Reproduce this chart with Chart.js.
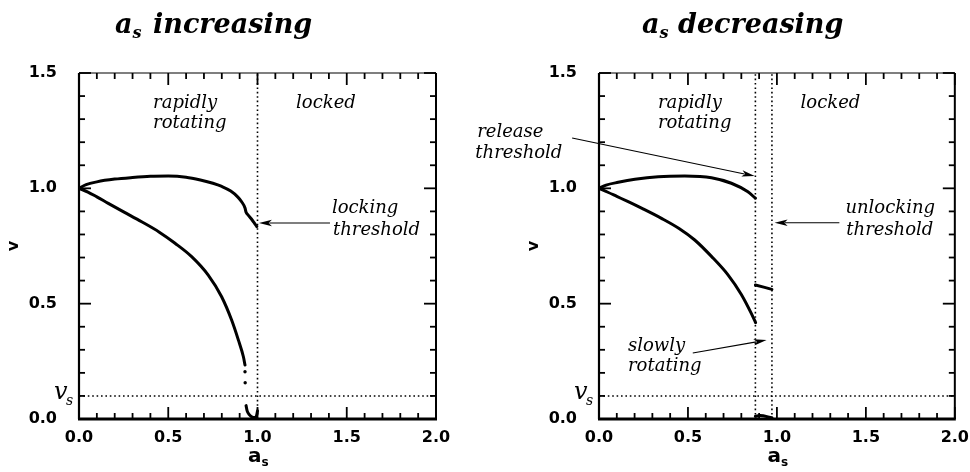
<!DOCTYPE html>
<html><head><meta charset="utf-8">
<script src="https://cdn.jsdelivr.net/npm/chart.js@4"></script>
<style>
html,body{margin:0;padding:0;background:#fff;}
#wrap{position:relative;width:970px;height:472px;overflow:hidden;background:#fff;}
canvas{position:absolute;top:0;}
#c1{left:0}
#c2{left:460px}
</style></head><body>
<div id="wrap"><canvas id="c1" width="485" height="472"></canvas><canvas id="c2" width="510" height="472"></canvas></div>
<script>
// ---------- data ----------
// a_s increasing
const incUpperA = [0, 0.04, 0.1, 0.2, 0.3, 0.4, 0.5, 0.6, 0.68, 0.75, 0.8, 0.85, 0.89, 0.911, 0.93, 0.936, 0.948, 0.965, 0.98, 0.996];
const incUpperV = [1.0, 1.016, 1.028, 1.04, 1.047, 1.052, 1.053, 1.048, 1.036, 1.022, 1.008, 0.988, 0.962, 0.942, 0.915, 0.896, 0.884, 0.868, 0.852, 0.834];
const incLowerA = [0, 0.05, 0.1, 0.164, 0.25, 0.351, 0.45, 0.538, 0.631, 0.724, 0.799, 0.855, 0.893, 0.921, 0.93];
const incLowerV = [1.0, 0.984, 0.963, 0.935, 0.898, 0.855, 0.81, 0.762, 0.704, 0.624, 0.53, 0.429, 0.342, 0.27, 0.234];
const incDotsA = [0.93, 0.931];
const incDotsV = [0.205, 0.157];
const incHookA = [0.936, 0.942, 0.955, 0.97, 0.985, 0.995, 1.0];
const incHookV = [0.058, 0.035, 0.018, 0.008, 0.006, 0.015, 0.035];
const incThresholdA = [1.0];
// a_s decreasing
const decUpperA = [0, 0.04, 0.108, 0.202, 0.333, 0.482, 0.632, 0.744, 0.837, 0.879];
const decUpperV = [1.0, 1.014, 1.026, 1.039, 1.05, 1.053, 1.046, 1.022, 0.985, 0.957];
const decLowerA = [0, 0.05, 0.1, 0.164, 0.25, 0.351, 0.45, 0.538, 0.632, 0.725, 0.8, 0.856, 0.88];
const decLowerV = [1.0, 0.983, 0.965, 0.942, 0.91, 0.87, 0.826, 0.776, 0.705, 0.625, 0.54, 0.458, 0.418];
const decMidA = [0.879, 0.972];
const decMidV = [0.581, 0.562];
const decLowA = [0.879, 0.905, 0.972];
const decLowV = [0.012, 0.015, 0.005];
const decThresholdA = [0.879, 0.972];
// common
const vsLevel = 0.1;
const xTickValues = [0, 0.5, 1.0, 1.5, 2.0];
const xTickLabels = ['0.0', '0.5', '1.0', '1.5', '2.0'];
const yTickValues = [0, 0.5, 1.0, 1.5];
const yTickLabels = ['0.0', '0.5', '1.0', '1.5'];

// ---------- helpers ----------
function pts(a, v) { return a.map((x, i) => ({x: x, y: v[i]})); }
function curve(a, v) {
  return {data: pts(a, v), showLine: true, pointRadius: 0, borderColor: '#000', borderWidth: 3,
          cubicInterpolationMode: 'monotone', borderCapStyle: 'round', borderJoinStyle: 'round'};
}
function dots(a, v) {
  return {data: pts(a, v), showLine: false, pointRadius: 1.7, backgroundColor: '#000', borderWidth: 0};
}
function dotted(data) {
  return {data: data, showLine: true, pointRadius: 0, borderColor: '#000', borderWidth: 1.6,
          borderDash: [1.6, 2.8], borderCapStyle: 'butt'};
}
function vLine(a) { return dotted([{x: a, y: 0}, {x: a, y: 1.5}]); }
function hLine(v) { return dotted([{x: 0, y: v}, {x: 2, y: v}]); }

function drawSub(ctx, base, sub, x, y, font, subFont, dx, dy) {
  ctx.font = font; ctx.fillText(base, x, y);
  const w = ctx.measureText(base).width;
  ctx.font = subFont; ctx.fillText(sub, x + w + dx, y + dy);
}

function arrow(ctx, x1, y1, x2, y2) {
  const ang = Math.atan2(y2 - y1, x2 - x1);
  const L = 13, W = 3.2;
  ctx.save();
  ctx.strokeStyle = '#000'; ctx.lineWidth = 1.1;
  ctx.beginPath(); ctx.moveTo(x1, y1);
  ctx.lineTo(x2 - Math.cos(ang) * L * 0.8, y2 - Math.sin(ang) * L * 0.8); ctx.stroke();
  ctx.fillStyle = '#000';
  ctx.beginPath();
  ctx.moveTo(x2, y2);
  ctx.lineTo(x2 - Math.cos(ang) * L - Math.sin(ang) * W, y2 - Math.sin(ang) * L + Math.cos(ang) * W);
  ctx.lineTo(x2 - Math.cos(ang) * L * 0.75, y2 - Math.sin(ang) * L * 0.75);
  ctx.lineTo(x2 - Math.cos(ang) * L + Math.sin(ang) * W, y2 - Math.sin(ang) * L - Math.cos(ang) * W);
  ctx.closePath(); ctx.fill();
  ctx.restore();
}

const decor = {
  id: 'decor',
  afterDraw(chart, args, o) {
    const ctx = chart.ctx, ca = chart.chartArea;
    const xs = chart.scales.x, ys = chart.scales.y;
    ctx.save();
    ctx.strokeStyle = '#000'; ctx.fillStyle = '#000';
    // frame
    ctx.lineCap = 'butt';
    ctx.lineWidth = 1.2; ctx.beginPath(); ctx.moveTo(ca.left, ca.top); ctx.lineTo(ca.right, ca.top); ctx.stroke();
    ctx.lineWidth = 2; ctx.beginPath(); ctx.moveTo(ca.right, ca.top); ctx.lineTo(ca.right, ca.bottom); ctx.stroke();
    ctx.lineWidth = 2.2; ctx.beginPath(); ctx.moveTo(ca.left, ca.top); ctx.lineTo(ca.left, ca.bottom); ctx.stroke();
    ctx.lineWidth = 2.8; ctx.beginPath(); ctx.moveTo(ca.left - 1, ca.bottom); ctx.lineTo(ca.right + 1, ca.bottom); ctx.stroke();
    // inward ticks
    ctx.lineWidth = 1.8;
    for (let i = 0; i <= 20; i++) {
      const px = xs.getPixelForValue(i / 10), len = (i % 5 === 0) ? 12 : 6;
      ctx.beginPath(); ctx.moveTo(px, ca.bottom); ctx.lineTo(px, ca.bottom - len); ctx.stroke();
      ctx.beginPath(); ctx.moveTo(px, ca.top); ctx.lineTo(px, ca.top + len); ctx.stroke();
    }
    for (let i = 0; i <= 15; i++) {
      const py = ys.getPixelForValue(i / 10), len = (i % 5 === 0) ? 12 : 6;
      ctx.beginPath(); ctx.moveTo(ca.left, py); ctx.lineTo(ca.left + len, py); ctx.stroke();
      ctx.beginPath(); ctx.moveTo(ca.right, py); ctx.lineTo(ca.right - len, py); ctx.stroke();
    }
    ctx.textAlign = 'left'; ctx.textBaseline = 'alphabetic';
    // v_s label
    drawSub(ctx, 'v', 's', ca.left - 25, ys.getPixelForValue(vsLevel) + 3,
            'italic 24px "DejaVu Serif"', 'italic 14px "DejaVu Serif"', -1.5, 6);
    // x title a_s
    const cx = (ca.left + ca.right) / 2;
    drawSub(ctx, 'a', 's', cx - 9.5, 462, 'bold 20px "DejaVu Sans"', 'bold 12px "DejaVu Sans"', 0, 4);
    // title
    drawSub(ctx, 'a', 's', o.title.ax, 33, 'bold italic 27px "DejaVu Serif"', 'bold italic 16px "DejaVu Serif"', 0, 5);
    ctx.font = 'bold italic 27px "DejaVu Serif"';
    ctx.fillText(o.title.text, o.title.tx, 33);
    // annotations
    ctx.font = 'italic 18px "DejaVu Serif"';
    for (const t of o.texts) ctx.fillText(t.t, xs.getPixelForValue(t.a), ys.getPixelForValue(t.v));
    for (const r of o.arrows) arrow(ctx, xs.getPixelForValue(r[0]), ys.getPixelForValue(r[1]),
                                     xs.getPixelForValue(r[2]), ys.getPixelForValue(r[3]));
    ctx.restore();
  }
};

function makeChart(id, datasets, padLeft, padRight, deco) {
  return new Chart(document.getElementById(id), {
    type: 'scatter',
    data: {datasets: datasets},
    plugins: [decor],
    options: {
      responsive: false, animation: false, devicePixelRatio: 1, events: [],
      layout: {padding: {left: padLeft, right: padRight, top: 73, bottom: 0}},
      plugins: {legend: {display: false}, tooltip: {enabled: false}, decor: deco},
      scales: {
        x: {type: 'linear', min: 0, max: 2, grid: {display: false}, border: {display: false},
            afterBuildTicks: s => { s.ticks = xTickValues.map(v => ({value: v})); },
            afterFit: s => { s.height = 53; },
            ticks: {padding: 1, color: '#000', font: {family: 'DejaVu Sans', size: 16, weight: 'bold'},
                    callback: v => xTickLabels[xTickValues.indexOf(v)]}},
        y: {type: 'linear', min: 0, max: 1.5, grid: {display: false}, border: {display: false},
            afterBuildTicks: s => { s.ticks = yTickValues.map(v => ({value: v})); },
            afterFit: s => { s.width = 79; },
            title: {display: true, text: 'v', color: '#000', font: {family: 'DejaVu Sans', size: 16, weight: 'bold'}},
            ticks: {padding: 14, color: '#000', font: {family: 'DejaVu Sans', size: 16, weight: 'bold'},
                    callback: v => yTickLabels[yTickValues.indexOf(v)]}}
      }
    }
  });
}

makeChart('c1', [
  curve(incUpperA, incUpperV), curve(incLowerA, incLowerV), dots(incDotsA, incDotsV), curve(incHookA, incHookV),
  ...incThresholdA.map(vLine), hLine(vsLevel)
], 0, 49, {
  title: {ax: 115, tx: 153, text: 'increasing'},
  texts: [
    {t: 'rapidly', a: 0.415, v: 1.348}, {t: 'rotating', a: 0.415, v: 1.26},
    {t: 'locked', a: 1.216, v: 1.348},
    {t: 'locking', a: 1.417, v: 0.893}, {t: 'threshold', a: 1.423, v: 0.798}
  ],
  arrows: [[1.406, 0.85, 1.008, 0.85]]
});

makeChart('c2', [
  curve(decUpperA, decUpperV), curve(decLowerA, decLowerV), curve(decMidA, decMidV), curve(decLowA, decLowV),
  ...decThresholdA.map(vLine), hLine(vsLevel)
], 60, 14, {
  title: {ax: 182, tx: 218, text: 'decreasing'},
  texts: [
    {t: 'release', a: -0.685, v: 1.2225}, {t: 'threshold', a: -0.695, v: 1.131},
    {t: 'rapidly', a: 0.331, v: 1.348}, {t: 'rotating', a: 0.331, v: 1.26},
    {t: 'locked', a: 1.133, v: 1.348},
    {t: 'unlocking', a: 1.385, v: 0.893}, {t: 'threshold', a: 1.39, v: 0.798},
    {t: 'slowly', a: 0.163, v: 0.295}, {t: 'rotating', a: 0.163, v: 0.208}
  ],
  arrows: [[-0.151, 1.218, 0.875, 1.053], [1.351, 0.851, 0.987, 0.851], [0.527, 0.286, 0.942, 0.342]]
});
</script>
</body></html>
